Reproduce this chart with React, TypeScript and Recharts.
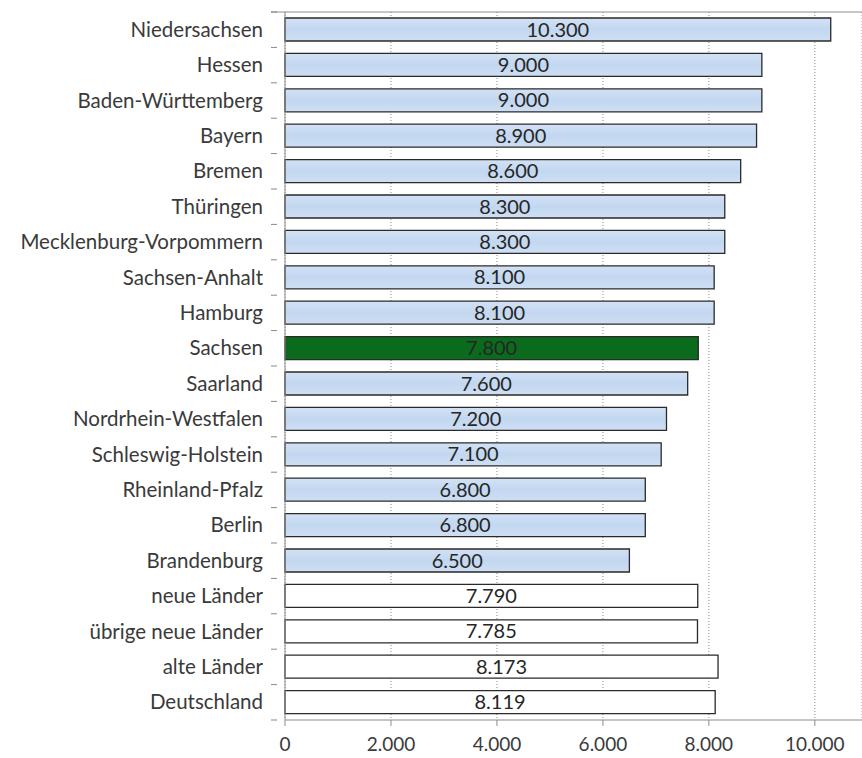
import { BarChart, Bar, XAxis, YAxis, CartesianGrid, LabelList, Cell } from 'recharts';

const laender = [
  'Niedersachsen',
  'Hessen',
  'Baden-Württemberg',
  'Bayern',
  'Bremen',
  'Thüringen',
  'Mecklenburg-Vorpommern',
  'Sachsen-Anhalt',
  'Hamburg',
  'Sachsen',
  'Saarland',
  'Nordrhein-Westfalen',
  'Schleswig-Holstein',
  'Rheinland-Pfalz',
  'Berlin',
  'Brandenburg',
  'neue Länder',
  'übrige neue Länder',
  'alte Länder',
  'Deutschland',
];

const werte = [
  10300, 9000, 9000, 8900, 8600, 8300, 8300, 8100, 8100, 7800, 7600, 7200, 7100, 6800, 6800, 6500,
  7790, 7785, 8173, 8119,
];

const xTicks = [0, 2000, 4000, 6000, 8000, 10000];

const highlight = 'Sachsen';
const aggregates = ['neue Länder', 'übrige neue Länder', 'alte Länder', 'Deutschland'];

const FONT = 'Lato, "Open Sans", sans-serif';
const TEXT = '#3a3a3a';
const CHART_W = 862;

const fmt = (v: number) => String(Math.round(v)).replace(/\B(?=(\d{3})+(?!\d))/g, '.');

const data = laender.map((land, i) => ({ land, wert: werte[i] }));

const barFill = (land: string) => {
  if (land === highlight) return '#0a6b1c';
  if (aggregates.includes(land)) return '#ffffff';
  return 'url(#lightBlue)';
};

const ROW = 708 / laender.length;

// y-axis tick: label plus Excel-style tick marks between categories
function LandTick(props: any) {
  const { x, y, payload, index } = props;
  const last = index === laender.length - 1;
  return (
    <g>
      {index === 0 && (
        <line x1={x - 6} x2={CHART_W} y1={y - ROW / 2} y2={y - ROW / 2} stroke="#8c8c8c" />
      )}
      <line x1={x - 6} x2={x} y1={y - ROW / 2} y2={y - ROW / 2} stroke="#888" />
      {last && <line x1={x - 6} x2={x} y1={y + ROW / 2} y2={y + ROW / 2} stroke="#888" />}
      <text x={x - 14} y={y} dy={7} textAnchor="end" fill={TEXT} fontSize={20.5} fontFamily={FONT}>
        {payload.value}
      </text>
    </g>
  );
}

export default function App() {
  return (
    <div style={{ position: 'absolute', left: 0, top: 0, background: '#fff' }}>
      <BarChart
        width={CHART_W}
        height={758}
        data={data}
        layout="vertical"
        margin={{ top: 12, right: 0, bottom: 0, left: 0 }}
        barSize={23}
      >
        <defs>
          <linearGradient id="lightBlue" x1="0" y1="0" x2="0" y2="1">
            <stop offset="0%" stopColor="#d3e2f5" />
            <stop offset="50%" stopColor="#c2d7f0" />
            <stop offset="100%" stopColor="#cfdff3" />
          </linearGradient>
        </defs>
        <CartesianGrid horizontal={false} stroke="#8c8c8c" strokeDasharray="1 2" />
        <XAxis
          type="number"
          domain={[0, 10890]}
          ticks={xTicks}
          tickFormatter={fmt}
          height={38}
          axisLine={{ stroke: '#8c8c8c' }}
          tickLine={{ stroke: '#8c8c8c' }}
          tickSize={6}
          tick={{ fontSize: 19, fill: TEXT, fontFamily: FONT, dy: 10 }}
          interval={0}
        />
        <YAxis
          type="category"
          dataKey="land"
          width={285}
          axisLine={{ stroke: '#8c8c8c' }}
          tickLine={false}
          tick={<LandTick />}
          interval={0}
        />
        <Bar dataKey="wert" stroke="#2a2a2a" strokeWidth={1.3} isAnimationActive={false}>
          {data.map((d) => (
            <Cell key={d.land} fill={barFill(d.land)} />
          ))}
          <LabelList
            dataKey="wert"
            position="center"
            formatter={(v: any) => fmt(Number(v))}
            fill="#262626"
            fontSize={20}
            fontFamily={FONT}
          />
        </Bar>
      </BarChart>
    </div>
  );
}
